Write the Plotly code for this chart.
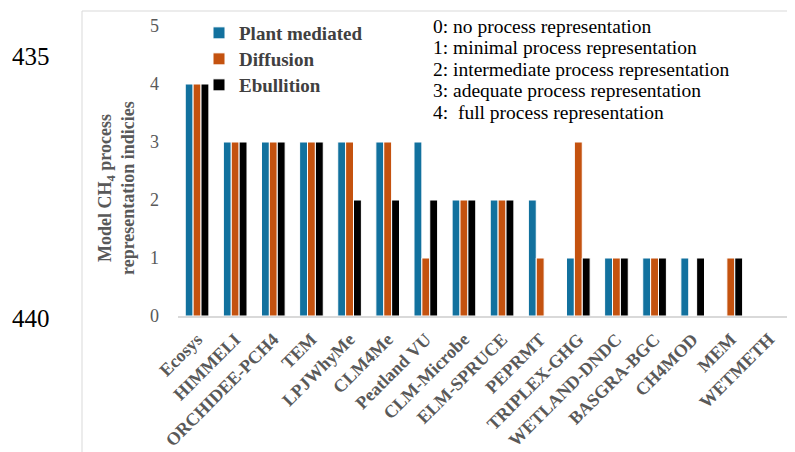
import plotly.graph_objects as go

models = ["Ecosys", "HIMMELI", "ORCHIDEE-PCH4", "TEM", "LPJWhyMe", "CLM4Me",
          "Peatland VU", "CLM-Microbe", "ELM-SPRUCE", "PEPRMT", "TRIPLEX-GHG",
          "WETLAND-DNDC", "BASGRA-BGC", "CH4MOD", "MEM", "WETMETH"]
plant_mediated = [4, 3, 3, 3, 3, 3, 3, 2, 2, 2, 1, 1, 1, 1, 0, 0]
diffusion      = [4, 3, 3, 3, 3, 3, 1, 2, 2, 1, 3, 1, 1, 0, 1, 0]
ebullition     = [4, 3, 3, 3, 2, 2, 2, 2, 2, 0, 1, 1, 1, 1, 1, 0]
series_names = ["Plant mediated", "Diffusion", "Ebullition"]
y_ticks = [0, 1, 2, 3, 4, 5]
scale_notes = ["0: no process representation",
               "1: minimal process representation",
               "2: intermediate process representation",
               "3: adequate process representation",
               "4:\u00a0\u00a0full process representation"]
line_numbers = ["435", "440"]

# page body has an 8px default margin; lay out in window pixels
OFF = 8
W, H = 795 - OFF, 452 - OFF
def px(x):
    return (x - OFF) / W
def py(y):
    return 1 - (y - OFF) / H

SERIF = "Liberation Serif, Times New Roman, serif"
GRAY = "#595959"

colors = ["#12719E", "#C4520F", "#000000"]
legend_ids = ["legend", "legend2", "legend3"]
legend_rows = [33, 59, 85]

fig = go.Figure()
for name, vals, col, lid in zip(series_names, [plant_mediated, diffusion, ebullition],
                                colors, legend_ids):
    fig.add_trace(go.Bar(x=models, y=vals, name=name, legend=lid,
                         marker=dict(color=col, line=dict(color="white", width=1))))

legend_style = dict(xanchor="left", yanchor="middle", bgcolor="rgba(0,0,0,0)",
                    borderwidth=0, itemwidth=30,
                    font=dict(family=SERIF, size=19, color="#404040", weight="bold"))

fig.update_layout(
    width=W, height=H,
    margin=dict(l=0, r=0, t=0, b=0, pad=0, autoexpand=False),
    paper_bgcolor="white", plot_bgcolor="white",
    barmode="group", bargap=0.38, bargroupgap=0,
    font=dict(family=SERIF, color=GRAY),
    showlegend=True,
    legend=dict(x=px(199), y=py(legend_rows[0]), **legend_style),
    legend2=dict(x=px(199), y=py(legend_rows[1]), **legend_style),
    legend3=dict(x=px(199), y=py(legend_rows[2]), **legend_style),
    xaxis=dict(domain=[px(178), px(788)], showgrid=False, automargin=False,
               showline=True, linecolor="#d9d9d9", linewidth=1.5,
               tickangle=-45, ticks="outside", ticklen=4, tickcolor="rgba(0,0,0,0)",
               tickfont=dict(family=SERIF, size=18, color=GRAY, weight="bold")),
    yaxis=dict(domain=[py(316), py(26)], range=[0, 5], showgrid=False, automargin=False,
               tickvals=y_ticks, showline=False, zeroline=False, ticks="",
               ticklabelstandoff=18,
               tickfont=dict(family=SERIF, size=18, color=GRAY)),
)

# y-axis title as rotated annotation
fig.add_annotation(xref="paper", yref="paper", x=px(116), y=py(188),
                   xanchor="center", yanchor="middle",
                   text="Model CH<sub>4</sub> process<br>representation indicies",
                   textangle=-90, showarrow=False,
                   font=dict(family=SERIF, size=18, color=GRAY, weight="bold"))

# scale description, one line each
for i, line in enumerate(scale_notes):
    fig.add_annotation(xref="paper", yref="paper", x=px(431), y=py(26 + 21.5 * i),
                       xanchor="left", yanchor="middle", align="left",
                       text=line, showarrow=False,
                       font=dict(family=SERIF, size=19.5, color="#000000"))

# manuscript line numbers
for txt, yy in zip(line_numbers, [57, 318]):
    fig.add_annotation(xref="paper", yref="paper", x=px(10), y=py(yy),
                       xanchor="left", yanchor="middle", text=txt, showarrow=False,
                       font=dict(family=SERIF, size=25, color="#000000"))

# chart frame
fig.add_shape(type="line", xref="paper", yref="paper", x0=px(82), x1=1, y0=py(11), y1=py(11),
              line=dict(color="#d9d9d9", width=1))
fig.add_shape(type="line", xref="paper", yref="paper", x0=px(82), x1=px(82), y0=py(11), y1=0,
              line=dict(color="#d9d9d9", width=1))

fig.write_html("out.html")
